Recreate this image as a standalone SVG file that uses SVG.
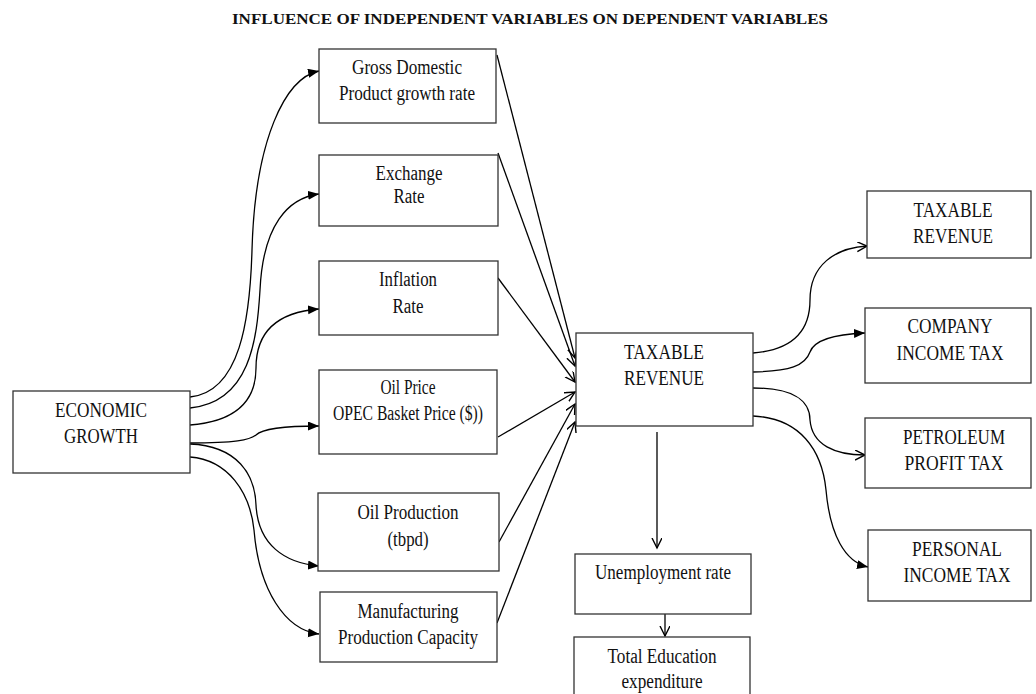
<svg xmlns="http://www.w3.org/2000/svg" width="1036" height="694" viewBox="0 0 1036 694">
<style>
text{font-family:"Liberation Serif","Times New Roman",serif;font-size:20px;fill:#111;text-anchor:middle}
.title{font-weight:bold;font-size:15px}
.box{fill:#fff;stroke:#333;stroke-width:1.3}
.c{fill:none;stroke:#000;stroke-width:1.3}
</style>
<defs>
<marker id="fa" markerUnits="userSpaceOnUse" markerWidth="12" markerHeight="10" refX="11" refY="4.5" orient="auto"><path d="M0,0 L11,4.5 L0,9 z" fill="#000"/></marker>
<marker id="oa" markerUnits="userSpaceOnUse" markerWidth="12" markerHeight="12" refX="10" refY="5" orient="auto"><path d="M0,0 L10,5 L0,10" fill="none" stroke="#000" stroke-width="1.4"/></marker>
</defs>
<text class="title" x="530" y="24" textLength="596" lengthAdjust="spacingAndGlyphs">INFLUENCE OF INDEPENDENT VARIABLES ON DEPENDENT VARIABLES</text>

<g id="connectors">
<path class="c" marker-end="url(#fa)" d="M190,397 C240,392 250,320 252,250 C255,140 285,78 319,71"/>
<path class="c" marker-end="url(#fa)" d="M190,408 C250,402 257,340 260,290 C263,225 288,198 319,194"/>
<path class="c" marker-end="url(#fa)" d="M190,425 C240,421 256,398 256,368 C256,330 280,312 319,309"/>
<path class="c" marker-end="url(#fa)" d="M190,443 C235,443 250,440 256,435 C263,428 290,426 319,426"/>
<path class="c" marker-end="url(#fa)" d="M190,444 C238,446 255,475 256,505 C258,545 285,563 319,566"/>
<path class="c" marker-end="url(#fa)" d="M190,457 C228,460 250,492 254,530 C259,590 285,630 319,634"/>

<path class="c" marker-end="url(#oa)" d="M497,55 L575,358"/>
<path class="c" marker-end="url(#oa)" d="M498,153 L575,366"/>
<path class="c" marker-end="url(#oa)" d="M498,278 L575,382"/>
<path class="c" marker-end="url(#oa)" d="M498,437 L575,392"/>
<path class="c" marker-end="url(#oa)" d="M499,542 L575,404"/>
<path class="c" marker-end="url(#oa)" d="M497,623 L575,422"/>

<path class="c" marker-end="url(#oa)" d="M753,353 C792,350 810,332 810,300 C810,265 835,248 867,246"/>
<path class="c" marker-end="url(#fa)" d="M753,372 C790,371 805,366 810,352 C815,338 840,334 865,333"/>
<path class="c" marker-end="url(#oa)" d="M753,388 C792,388 810,400 810,420 C812,445 835,455 865,455"/>
<path class="c" marker-end="url(#fa)" d="M753,416 C800,418 822,450 826,490 C830,535 845,562 868,567"/>

<path class="c" marker-end="url(#oa)" d="M657,432 L657,548"/>
<path class="c" marker-end="url(#oa)" d="M665,614 L665,636"/>
</g>

<g id="gdp"><rect class="box" x="319" y="49" width="177" height="74"/>
<text x="407" y="74" textLength="110" lengthAdjust="spacingAndGlyphs">Gross Domestic</text>
<text x="407" y="100" textLength="136" lengthAdjust="spacingAndGlyphs">Product growth rate</text></g>

<g id="exchange"><rect class="box" x="319" y="155" width="179" height="71"/>
<text x="409" y="180" textLength="67" lengthAdjust="spacingAndGlyphs">Exchange</text>
<text x="409" y="203" textLength="31" lengthAdjust="spacingAndGlyphs">Rate</text></g>

<g id="inflation"><rect class="box" x="319" y="261" width="179" height="74"/>
<text x="408" y="286" textLength="58" lengthAdjust="spacingAndGlyphs">Inflation</text>
<text x="408" y="313" textLength="31" lengthAdjust="spacingAndGlyphs">Rate</text></g>

<g id="oilprice"><rect class="box" x="319" y="370" width="178" height="84"/>
<text x="408" y="394" textLength="55" lengthAdjust="spacingAndGlyphs">Oil Price</text>
<text x="408" y="420" textLength="150" lengthAdjust="spacingAndGlyphs">OPEC Basket Price ($))</text></g>

<g id="economic"><rect class="box" x="13" y="391" width="177" height="82"/>
<text x="101" y="417" textLength="92" lengthAdjust="spacingAndGlyphs">ECONOMIC</text>
<text x="101" y="443" textLength="74" lengthAdjust="spacingAndGlyphs">GROWTH</text></g>

<g id="oilprod"><rect class="box" x="318" y="493" width="181" height="78"/>
<text x="408" y="519" textLength="101" lengthAdjust="spacingAndGlyphs">Oil Production</text>
<text x="408" y="546" textLength="41" lengthAdjust="spacingAndGlyphs">(tbpd)</text></g>

<g id="manufacturing"><rect class="box" x="320" y="592" width="177" height="70"/>
<text x="408" y="618" textLength="101" lengthAdjust="spacingAndGlyphs">Manufacturing</text>
<text x="408" y="644" textLength="140" lengthAdjust="spacingAndGlyphs">Production Capacity</text></g>

<g id="taxable-center"><rect class="box" x="576" y="333" width="177" height="93"/>
<text x="664" y="359" textLength="80" lengthAdjust="spacingAndGlyphs">TAXABLE</text>
<text x="664" y="385" textLength="80" lengthAdjust="spacingAndGlyphs">REVENUE</text></g>

<g id="unemployment"><rect class="box" x="575" y="554" width="176" height="60"/>
<text x="663" y="579" textLength="136" lengthAdjust="spacingAndGlyphs">Unemployment rate</text></g>

<g id="education"><rect class="box" x="574" y="637" width="176" height="70"/>
<text x="662" y="663" textLength="109" lengthAdjust="spacingAndGlyphs">Total Education</text>
<text x="662" y="688" textLength="81" lengthAdjust="spacingAndGlyphs">expenditure</text></g>

<g id="taxable-right"><rect class="box" x="867" y="191" width="164" height="67"/>
<text x="953" y="217" textLength="79" lengthAdjust="spacingAndGlyphs">TAXABLE</text>
<text x="953" y="243" textLength="80" lengthAdjust="spacingAndGlyphs">REVENUE</text></g>

<g id="company"><rect class="box" x="865" y="308" width="166" height="75"/>
<text x="950" y="333" textLength="85" lengthAdjust="spacingAndGlyphs">COMPANY</text>
<text x="950" y="360" textLength="107" lengthAdjust="spacingAndGlyphs">INCOME TAX</text></g>

<g id="petroleum"><rect class="box" x="865" y="418" width="166" height="70"/>
<text x="954" y="444" textLength="102" lengthAdjust="spacingAndGlyphs">PETROLEUM</text>
<text x="954" y="470" textLength="99" lengthAdjust="spacingAndGlyphs">PROFIT TAX</text></g>

<g id="personal"><rect class="box" x="868" y="530" width="163" height="71"/>
<text x="957" y="556" textLength="90" lengthAdjust="spacingAndGlyphs">PERSONAL</text>
<text x="957" y="582" textLength="107" lengthAdjust="spacingAndGlyphs">INCOME TAX</text></g>
</svg>
